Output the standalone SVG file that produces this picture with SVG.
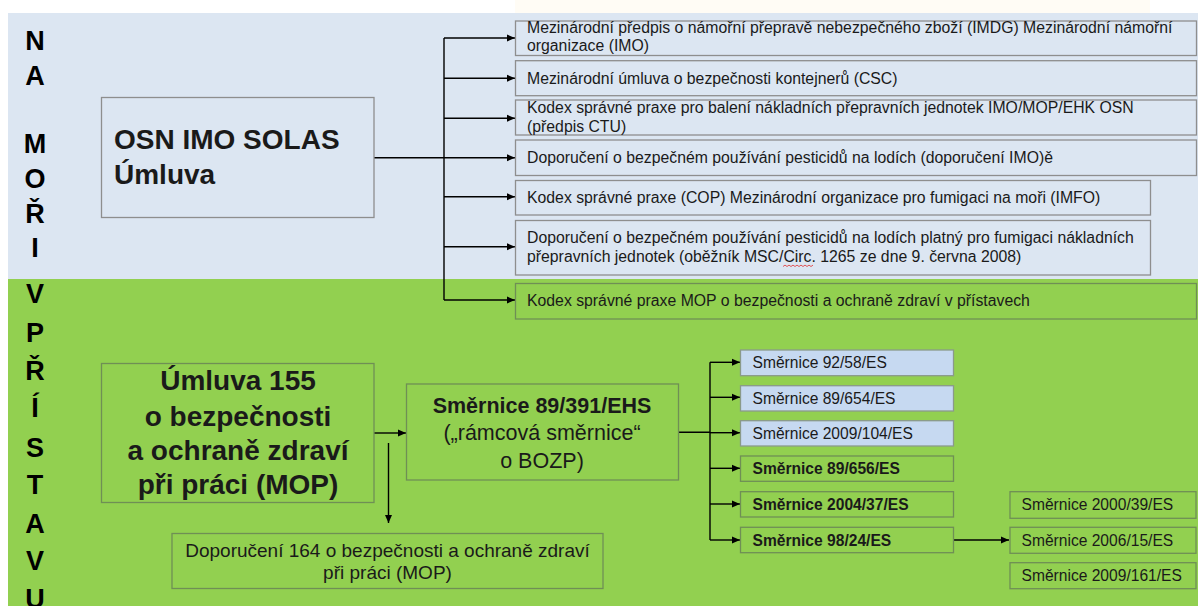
<svg xmlns="http://www.w3.org/2000/svg" width="1198" height="606" viewBox="0 0 1198 606">
<style>
.t{font-family:"Liberation Sans",Arial,sans-serif;fill:#1a1a1a}
.s{font-size:15.8px}
.m{font-size:15.6px}
.b{font-weight:bold}
.c{text-anchor:middle}
.L{font-family:"Liberation Sans",Arial,sans-serif;font-weight:bold;font-size:27px;text-anchor:middle;fill:#000}
.bb{fill:#dce6f2;stroke:#8e8e8e;stroke-width:1.3}
.bg{fill:#92d050;stroke:#6f8f55;stroke-width:1.3}
.bl{fill:#c6d9f1;stroke:#8a9a8a;stroke-width:1.3}
.cn{stroke:#000;stroke-width:1.4;fill:none}
.ar{marker-end:url(#ah)}
</style>
<defs>
<marker id="ah" markerUnits="userSpaceOnUse" markerWidth="9" markerHeight="8" refX="8" refY="4" orient="auto">
<path d="M0,0.5 L8,4 L0,7.5 z" fill="#000"/>
</marker>
</defs>
<rect x="0" y="0" width="1198" height="606" fill="#fff"/>
<rect x="515" y="0" width="635" height="13" fill="#fffcf5"/>
<rect x="8" y="13" width="1190" height="266" fill="#dce6f2"/>
<rect x="8" y="279" width="1190" height="327" fill="#92d050"/>
<g id="side-labels">
<text class="L" x="35" y="50">N</text>
<text class="L" x="35" y="85">A</text>
<text class="L" x="35" y="153">M</text>
<text class="L" x="35" y="188">O</text>
<text class="L" x="35" y="223">Ř</text>
<text class="L" x="35" y="257">I</text>
<text class="L" x="35" y="303">V</text>
<text class="L" x="35" y="342">P</text>
<text class="L" x="35" y="380">Ř</text>
<text class="L" x="35" y="417">Í</text>
<text class="L" x="35" y="457">S</text>
<text class="L" x="35" y="494">T</text>
<text class="L" x="35" y="533">A</text>
<text class="L" x="35" y="570">V</text>
<text class="L" x="35" y="608">U</text>
</g>
<g id="connectors">
<path class="cn" d="M374,157.7 H444 M444,38 V300"/>
<path class="cn ar" d="M444,38 H515"/>
<path class="cn ar" d="M444,78.3 H515"/>
<path class="cn ar" d="M444,118.3 H515"/>
<path class="cn ar" d="M444,157.7 H515"/>
<path class="cn ar" d="M444,196.7 H515"/>
<path class="cn ar" d="M444,246.7 H515"/>
<path class="cn ar" d="M444,300 H515"/>
<path class="cn ar" d="M374,433 H406"/>
<path class="cn ar" d="M388.5,443 V523"/>
<path class="cn" d="M678,432.3 H710 M710,362.3 V540"/>
<path class="cn ar" d="M710,362.3 H740"/>
<path class="cn ar" d="M710,397.3 H740"/>
<path class="cn ar" d="M710,432.7 H740"/>
<path class="cn ar" d="M710,468.3 H740"/>
<path class="cn ar" d="M710,504 H740"/>
<path class="cn ar" d="M710,540 H740"/>
<path class="cn ar" d="M953.6,540 H1009"/>
</g>
<g id="osn">
<rect class="bb" x="101.5" y="97.5" width="272.5" height="120"/>
<text class="t b" x="114" y="149" font-size="28">OSN IMO SOLAS</text>
<text class="t b" x="114" y="184" font-size="28">Úmluva</text>
</g>
<g id="imdg">
<rect class="bb" x="515.5" y="21" width="681" height="34.5"/>
<text class="t s" x="527" y="33">Mezinárodní předpis o námořní přepravě nebezpečného zboží (IMDG) Mezinárodní námořní</text>
<text class="t s" x="527" y="51">organizace (IMO)</text>
</g>
<g id="csc">
<rect class="bb" x="515.5" y="60.7" width="681" height="35"/>
<text class="t s" x="527" y="84">Mezinárodní úmluva o bezpečnosti kontejnerů (CSC)</text>
</g>
<g id="ctu">
<rect class="bb" x="515.5" y="100" width="681" height="35"/>
<text class="t s" x="527" y="113">Kodex správné praxe pro balení nákladních přepravních jednotek IMO/MOP/EHK OSN</text>
<text class="t s" x="527" y="131.5">(předpis CTU)</text>
</g>
<g id="pesticidy">
<rect class="bb" x="515.5" y="140" width="681" height="35.5"/>
<text class="t s" x="527" y="163">Doporučení o bezpečném používání pesticidů na lodích (doporučení IMO)ě</text>
</g>
<g id="imfo">
<rect class="bb" x="515.5" y="180.5" width="635" height="34.5"/>
<text class="t s" x="527" y="203">Kodex správné praxe (COP) Mezinárodní organizace pro fumigaci na moři (IMFO)</text>
</g>
<g id="msc">
<rect class="bb" x="515.5" y="220.5" width="635" height="54.5"/>
<text class="t s" x="527" y="243">Doporučení o bezpečném používání pesticidů na lodích platný pro fumigaci nákladních</text>
<text class="t s" x="527" y="262">přepravních jednotek (oběžník MSC/Circ. 1265 ze dne 9. června 2008)</text>
<path d="M783,266.5 l2,-1.4 l2,1.4 l2,-1.4 l2,1.4 l2,-1.4 l2,1.4 l2,-1.4 l2,1.4 l2,-1.4 l2,1.4 l2,-1.4 l2,1.4 l2,-1.4 l2,1.4 l2,-1.4" fill="none" stroke="#e03030" stroke-width="0.8"/>
</g>
<g id="mop-pristavy">
<rect class="bg" x="515.5" y="283.5" width="681" height="35.5"/>
<text class="t s" x="527" y="306">Kodex správné praxe MOP o bezpečnosti a ochraně zdraví v přístavech</text>
</g>
<g id="umluva155">
<rect class="bg" x="101.5" y="363.5" width="272.5" height="139"/>
<text class="t b c" x="238" y="390" font-size="28">Úmluva 155</text>
<text class="t b c" x="238" y="426" font-size="28">o bezpečnosti</text>
<text class="t b c" x="238" y="460" font-size="28">a ochraně zdraví</text>
<text class="t b c" x="238" y="494" font-size="28">při práci (MOP)</text>
</g>
<g id="smernice391">
<rect class="bg" x="406.5" y="384" width="272" height="96"/>
<text class="t b c" x="542" y="413" font-size="21.5">Směrnice 89/391/EHS</text>
<text class="t c" x="542" y="440" font-size="21.5">(„rámcová směrnice“</text>
<text class="t c" x="542" y="468" font-size="21.5">o BOZP)</text>
</g>
<g id="doporuceni164">
<rect class="bg" x="172" y="533.5" width="431" height="55"/>
<text class="t c" x="387.5" y="557" font-size="19">Doporučení 164 o bezpečnosti a ochraně zdraví</text>
<text class="t c" x="387.5" y="579" font-size="19">při práci (MOP)</text>
</g>
<g id="s92-58">
<rect class="bl" x="740.5" y="350" width="213" height="25.7"/>
<text class="t m" x="752.5" y="368">Směrnice 92/58/ES</text>
</g>
<g id="s89-654">
<rect class="bl" x="740.5" y="385.7" width="213" height="25.3"/>
<text class="t m" x="752.5" y="403.5">Směrnice 89/654/ES</text>
</g>
<g id="s2009-104">
<rect class="bl" x="740.5" y="420.7" width="213" height="25.3"/>
<text class="t m" x="752.5" y="438.5">Směrnice 2009/104/ES</text>
</g>
<g id="s89-656">
<rect class="bg" x="740.5" y="456" width="213" height="25.3"/>
<text class="t m b" x="752.5" y="474">Směrnice 89/656/ES</text>
</g>
<g id="s2004-37">
<rect class="bg" x="740.5" y="491.7" width="213" height="25.3"/>
<text class="t m b" x="752.5" y="509.5">Směrnice 2004/37/ES</text>
</g>
<g id="s98-24">
<rect class="bg" x="740.5" y="527.3" width="213" height="25.4"/>
<text class="t m b" x="752.5" y="545.5">Směrnice 98/24/ES</text>
</g>
<g id="s2000-39">
<rect class="bg" x="1010" y="491.7" width="186" height="26.6"/>
<text class="t m" x="1021.5" y="510">Směrnice 2000/39/ES</text>
</g>
<g id="s2006-15">
<rect class="bg" x="1010" y="527.3" width="186" height="26"/>
<text class="t m" x="1021.5" y="545.5">Směrnice 2006/15/ES</text>
</g>
<g id="s2009-161">
<rect class="bg" x="1010" y="562.7" width="186" height="26"/>
<text class="t m" x="1021.5" y="581">Směrnice 2009/161/ES</text>
</g>
</svg>
